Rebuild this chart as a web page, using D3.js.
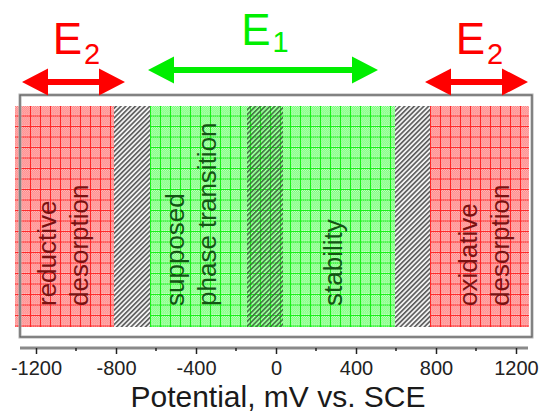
<!DOCTYPE html>
<html><head><meta charset="utf-8">
<script src="https://cdn.jsdelivr.net/npm/d3@7"></script>
<style>body{margin:0;background:#fff}svg{display:block}text{font-family:"Liberation Sans",Arial,sans-serif}</style>
</head><body>
<svg id="c" width="539" height="414"></svg>
<script>
// potential regions (mV vs. SCE)
const regionStart = [-1305, -810, -630, 595, 770];
const regionEnd   = [-810, -630, 595, 770, 1265];
const regionKind  = ["red", "grey", "green", "grey", "red"];
const stripeRange = [-145, 35];
// arrows
const arrowFrom  = [-1270, -640, 745];
const arrowTo    = [-755, 510, 1260];
const arrowName  = ["E", "E", "E"];
const arrowSub   = ["2", "1", "2"];
const arrowKind  = ["red", "green", "red"];
// region labels
const labelCenter = [-1055, -415, 295, 1050];
const labelLines  = [["reductive","desorption"],["supposed","phase transition"],["stability"],["oxidative","desorption"]];
const labelKind   = ["red","green","green","red"];
// ticks
const majorTicks = [-1200, -800, -400, 0, 400, 800, 1200];
const minorTicks = [-1000, -600, -200, 200, 600, 1000];
const axisTitle = "Potential, mV vs. SCE";

const svg = d3.select("#c");
const x = d3.scaleLinear().domain([-1280, 1280]).range([20, 532]);
const bandTop = 106, bandBot = 327;

const defs = svg.append("defs");
function gridPattern(id, c1, c2, line) {
  const p = defs.append("pattern").attr("id", id).attr("patternUnits", "userSpaceOnUse")
    .attr("width", 10).attr("height", 10.5);
  p.append("rect").attr("width", 10).attr("height", 10.5).attr("fill", c2);
  let d = "";
  for (let i = 0; i < 10; i++) for (let j = 0; j < 10; j++) if ((i + j) % 2 === 0) d += `M${i},${j}h1v1h-1z`;
  p.append("path").attr("d", d).attr("fill", c1);
  p.append("path").attr("d", "M0.5,0V10.5M0,0.5H10").attr("stroke", line).attr("stroke-width", 1).attr("fill", "none");
}
gridPattern("pred", "#ff8080", "#ffbcbc", "#ff2828");
gridPattern("pgreen", "#6cff6c", "#c6ffc6", "#18f018");
function hatch(id, bg, line, w) {
  const p = defs.append("pattern").attr("id", id).attr("patternUnits", "userSpaceOnUse")
    .attr("width", 3.4).attr("height", 3.4).attr("patternTransform", "rotate(-45)");
  if (bg) p.append("rect").attr("width", 3.4).attr("height", 3.4).attr("fill", bg);
  p.append("rect").attr("width", 3.4).attr("height", w).attr("fill", line);
}
hatch("pgrey", "#f2f2f2", "#5a5a5a", 1.6);
hatch("pdark", null, "#3a663a", 1.6);

const fillOf = {red: "url(#pred)", green: "url(#pgreen)", grey: "url(#pgrey)"};
svg.append("g").selectAll("rect").data(regionStart).join("rect")
  .attr("x", (d) => x(d)).attr("y", bandTop)
  .attr("width", (d, i) => x(regionEnd[i]) - x(d)).attr("height", bandBot - bandTop)
  .attr("fill", (d, i) => fillOf[regionKind[i]]);
svg.append("rect").attr("x", x(stripeRange[0])).attr("y", bandTop)
  .attr("width", x(stripeRange[1]) - x(stripeRange[0])).attr("height", bandBot - bandTop)
  .attr("fill", "url(#pdark)").attr("opacity", 0.9);

// frame
svg.append("rect").attr("x", x(-1280)).attr("y", 95).attr("width", x(1280) - x(-1280)).attr("height", 337 - 95)
  .attr("fill", "none").attr("stroke", "#b0b0b0").attr("stroke-width", 3);
svg.append("rect").attr("x", x(-1280)).attr("y", 95).attr("width", x(1280) - x(-1280)).attr("height", 337 - 95)
  .attr("fill", "none").attr("stroke", "#555").attr("stroke-width", 1);

// labels
const textCol = {red: "#7a1212", green: "#145514"};
const fs = 26, lineGap = 32;
labelCenter.forEach((c, i) => {
  const lines = labelLines[i];
  lines.forEach((t, k) => {
    const cx = x(c) + (k - (lines.length - 1) / 2) * lineGap + 7;
    svg.append("text").attr("transform", `translate(${cx},306) rotate(-90)`)
      .attr("font-size", fs).attr("fill", textCol[labelKind[i]]).attr("text-anchor", "start").text(t);
  });
});

// axis
const axY = 348;
svg.append("line").attr("x1", x(-1280)).attr("x2", x(1260)).attr("y1", axY).attr("y2", axY)
  .attr("stroke", "#8a8a8a").attr("stroke-width", 3);
const axis = d3.axisBottom(x).tickValues(majorTicks).tickSize(6).tickPadding(7).tickFormat((d) => String(d));
const ag = svg.append("g").attr("transform", `translate(0,${axY})`).call(axis);
ag.select(".domain").remove();
ag.selectAll(".tick line").attr("stroke", "#222").attr("stroke-width", 1.5);
ag.selectAll(".tick text").attr("font-size", 20).attr("fill", "#222").attr("font-family", '"Liberation Sans",Arial,sans-serif');
svg.append("g").selectAll("line").data(minorTicks).join("line")
  .attr("x1", (d) => x(d)).attr("x2", (d) => x(d)).attr("y1", axY).attr("y2", axY + 3)
  .attr("stroke", "#222").attr("stroke-width", 1.5);
svg.append("text").attr("x", 278).attr("y", 407).attr("text-anchor", "middle")
  .attr("font-size", 30).attr("fill", "#1a1a1a").text(axisTitle);

// arrows
const arrowCol = {red: "#ff0000", green: "#00ee00"};
arrowFrom.forEach((a, i) => {
  const x1 = x(a), x2 = x(arrowTo[i]);
  const cy = arrowKind[i] === "green" ? 70 : 82;
  const hl = 26, hh = 13.5, sw = 3;
  const col = arrowCol[arrowKind[i]];
  svg.append("path").attr("fill", col)
    .attr("d", `M${x1},${cy}L${x1 + hl},${cy - hh}L${x1 + hl},${cy - sw}L${x2 - hl},${cy - sw}L${x2 - hl},${cy - hh}L${x2},${cy}L${x2 - hl},${cy + hh}L${x2 - hl},${cy + sw}L${x1 + hl},${cy + sw}L${x1 + hl},${cy + hh}Z`);
  const mid = (x1 + x2) / 2;
  const base = arrowKind[i] === "green" ? 45 : 54;
  const t = svg.append("text").attr("x", mid + (arrowKind[i] === "green" ? 2 : 3)).attr("y", base)
    .attr("text-anchor", "middle").attr("fill", col).attr("font-size", 44);
  t.append("tspan").text(arrowName[i]);
  t.append("tspan").attr("font-size", 29).attr("dy", arrowKind[i] === "green" ? 7 : 10).attr("dx", 2).text(arrowSub[i]);
});
</script>
</body></html>
